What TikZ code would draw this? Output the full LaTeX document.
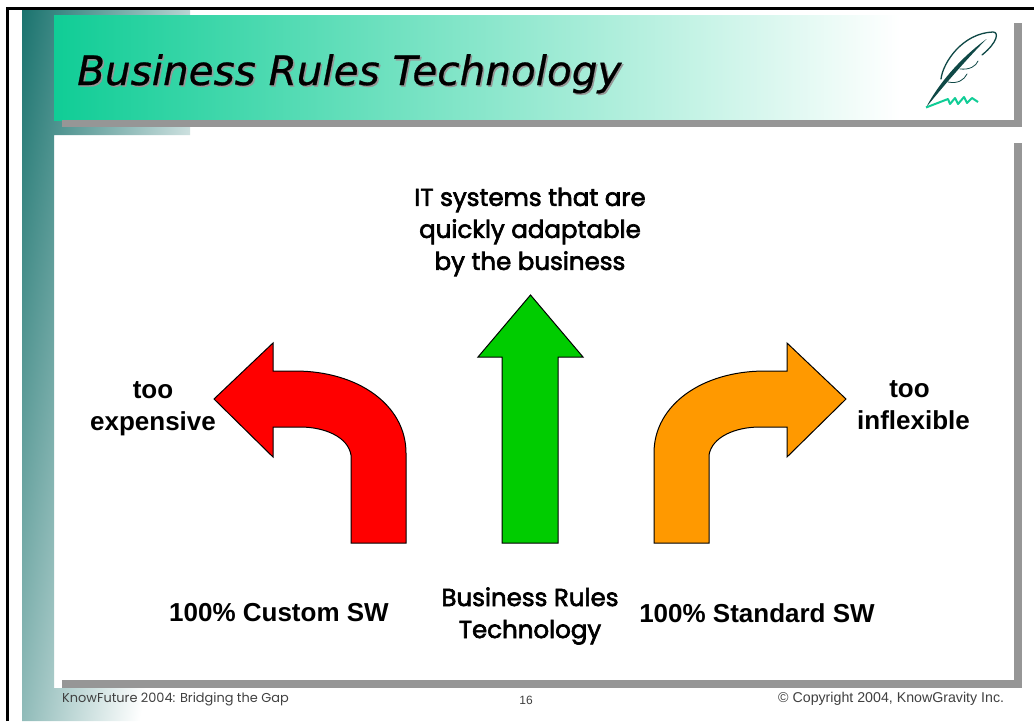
\documentclass[tikz,border=0pt]{standalone}
\usepackage{fontspec}
\setmainfont{Liberation Sans}
\newfontfamily\titlefont[FakeBold=.6]{DejaVu Sans}
\newfontfamily\footfont{Poppins}
\newfontfamily\gothicfont[FakeBold=2.6]{Poppins}
\definecolor{stripteal}{RGB}{26,115,110}
\definecolor{stripmid}{RGB}{178,203,201}
\definecolor{bannergreen}{RGB}{16,205,150}
\definecolor{bannermid}{RGB}{170,228,200}
\definecolor{shadowgrey}{RGB}{150,150,150}
\definecolor{quillteal}{RGB}{15,72,70}
\definecolor{arrowgreen}{RGB}{0,204,0}
\definecolor{arroworange}{RGB}{255,153,0}
\tikzset{
	shadowbar/.style={fill=shadowgrey, draw=none},
	bigarrow/.style={draw=black, line width=1pt, line join=miter},
	label/.style={font=\fontsize{26}{32}\selectfont\bfseries, align=center, inner sep=0pt},
	gothic/.style={font=\fontsize{24.5}{32}\selectfont\gothicfont, align=center, inner sep=0pt},
	foot/.style={font=\fontsize{14.2}{16}\selectfont, text=black!75, inner sep=0pt},
	quill/.style={draw=quillteal, line cap=round},
}
\begin{document}
\begin{tikzpicture}[x=1pt,y=-1pt]
\useasboundingbox (0,0) rectangle (1034,721);
\fill[white] (0,0) rectangle (1034,721);
\begin{scope}
\clip (22,7) -- (190,7) -- (190,135) -- (54,135) -- (54,688) -- (280,688) -- (280,721) -- (22,721) -- cycle;
\shade[left color=stripteal, middle color=stripmid, right color=white, transform canvas={rotate=-10}] (23,-60) rectangle (263,760);
\end{scope}
\shade[left color=bannergreen, middle color=bannermid, right color=white] (54,15) rectangle (900,120);
\fill[white] (900,15) rectangle (1014,120);
\fill[shadowbar] (62,120) rectangle (1022,127);
\fill[shadowbar] (1014,23) rectangle (1022,127);
\fill[shadowbar] (1014,143) rectangle (1022,688);
\fill[shadowbar] (62,680) rectangle (1022,688);
\draw[line width=3pt] (7.5,721) -- (7.5,8.5) -- (1034,8.5);
\node[anchor=base west, inner sep=0pt, text=shadowgrey, font=\fontsize{40.5}{42}\selectfont\titlefont\itshape] (titleback) at (78.5,86.5) {Business Rules Technology};
\node[anchor=base west, inner sep=0pt, font=\fontsize{40.5}{42}\selectfont\titlefont\itshape] (title) at (77,85) {Business Rules Technology};
\fill[quillteal] (926,107.5) .. controls (938,85) and (958,60) .. (986.5,39) .. controls (965,61) and (946,83) .. (926,107.5) -- cycle;
\draw[quill, line width=1.3pt] (941,79) .. controls (943,62) and (963,33) .. (993,32) .. controls (999,32) and (998,42) .. (982,55);
\draw[quill, line width=.8pt] (960,69) .. controls (970,70) and (976,66) .. (978,61);
\draw[quill, line width=.8pt] (948,82) .. controls (958,84) and (964,80) .. (967,74);
\draw[bannergreen, line width=2pt, line join=round] (926,107.5) -- (948,99) -- (950,104) -- (955,98) -- (958,104) -- (964,97) -- (967,103) -- (972,98) -- (978,102);
\draw[bigarrow, fill=red] (214,399) -- (273,343) -- (273,371) -- (295,371) .. controls (358,371) and (406,405) .. (406,453) -- (406,543) -- (351,543) -- (351,455) .. controls (348,437) and (325,427) .. (300,427) -- (273,427) -- (273,457) -- cycle;
\draw[bigarrow, fill=arrowgreen] (530.5,295) -- (583,357) -- (558,357) -- (558,543) -- (502,543) -- (502,357) -- (478,357) -- cycle;
\draw[bigarrow, fill=arroworange] (846,399) -- (787,343) -- (787,371) -- (765,371) .. controls (702,371) and (654,405) .. (654,453) -- (654,543) -- (709,543) -- (709,455) .. controls (712,437) and (735,427) .. (760,427) -- (787,427) -- (787,457) -- cycle;
\node[gothic] (goal) at (530,232) {IT systems that are\\quickly adaptable\hspace*{7pt}\\ by the business};
\node[label] (expensive) at (153,409) {too\\expensive};
\node[label] (inflexible) at (913.5,405) {too\hspace*{8pt}\\inflexible};
\node[label] (custom) at (279,613) {100\% Custom SW};
\node[gothic] (rules) at (530,616) {Business Rules\\Technology};
\node[label] (standard) at (757,613) {100\% Standard SW};
\node[foot, anchor=west, font=\fontsize{12.9}{16}\selectfont\footfont] (event) at (62,699) {KnowFuture 2004: Bridging the Gap};
\node[foot, font=\fontsize{12}{14}\selectfont] (page) at (526,700) {16};
\node[foot, anchor=west] (copyright) at (778,699) {© Copyright 2004, KnowGravity Inc.};
\end{tikzpicture}
\end{document}
